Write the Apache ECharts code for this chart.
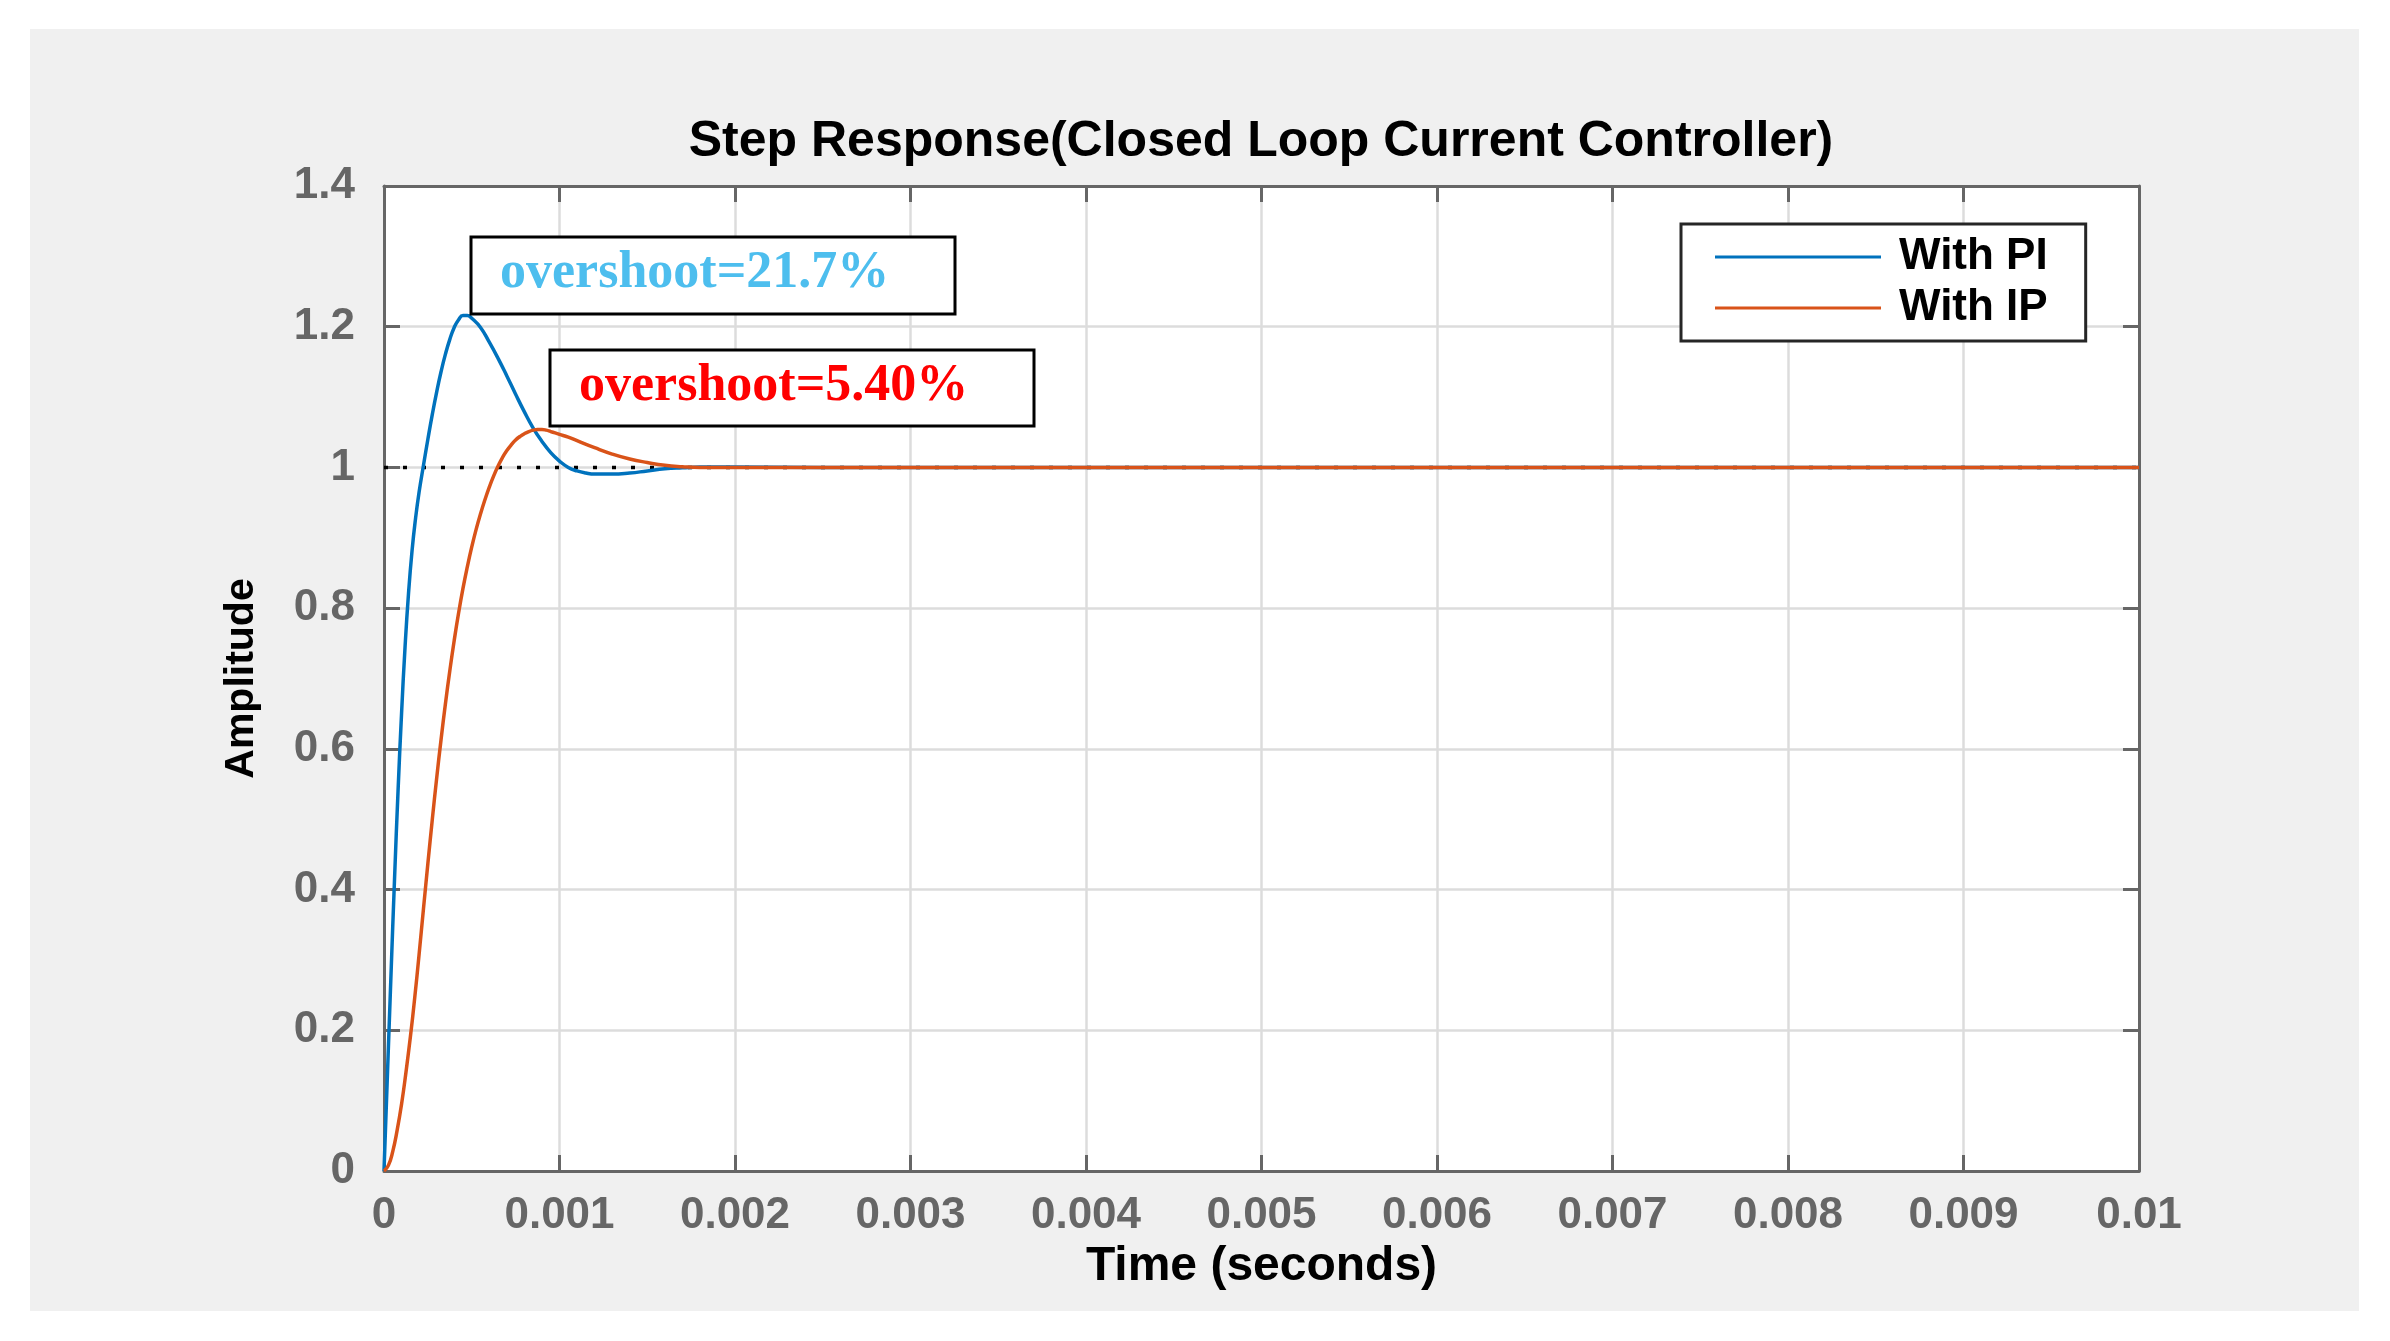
<!DOCTYPE html>
<html>
<head>
<meta charset="utf-8">
<title>Step Response</title>
<script src="https://cdn.jsdelivr.net/npm/echarts@6.0.0/dist/echarts.min.js"></script>
<style>
  html, body { margin: 0; padding: 0; background: #fff; }
  #frame { position: absolute; left: 30px; top: 29px; width: 2329px; height: 1282px; background: #f0f0f0; }
  #chart { position: absolute; left: 0; top: 0; width: 2390px; height: 1341px; }
</style>
</head>
<body>
<div id="frame"></div>
<div id="chart"></div>
<script>
// time in milliseconds
var piTimes = [0, 0.02, 0.04, 0.06, 0.08, 0.10, 0.12, 0.14, 0.16, 0.18, 0.20, 0.225, 0.25, 0.275, 0.30,
  0.325, 0.35, 0.375, 0.40, 0.425, 0.45, 0.475, 0.50, 0.55, 0.60, 0.65, 0.70, 0.75, 0.80, 0.85, 0.90,
  0.95, 1.00, 1.05, 1.10, 1.15, 1.20, 1.30, 1.40, 1.50, 1.60, 1.70, 1.80, 2.00, 2.50, 10];
var piValues = [0, 0.14, 0.28, 0.415, 0.54, 0.65, 0.745, 0.822, 0.882, 0.928, 0.965, 1.003, 1.04, 1.075, 1.107,
  1.136, 1.161, 1.182, 1.199, 1.21, 1.216, 1.216, 1.212, 1.199, 1.178, 1.155, 1.13, 1.104, 1.079, 1.056, 1.037,
  1.021, 1.009, 1.0, 0.995, 0.992, 0.9905, 0.9905, 0.992, 0.995, 0.998, 0.9995, 1.0005, 1.0005, 1.0, 1.0];

var ipTimes = [0, 0.025, 0.05, 0.075, 0.10, 0.125, 0.15, 0.175, 0.20, 0.225, 0.25, 0.275, 0.30, 0.325,
  0.35, 0.375, 0.40, 0.425, 0.45, 0.475, 0.50, 0.525, 0.55, 0.575, 0.60, 0.625, 0.65, 0.675, 0.70, 0.725,
  0.75, 0.775, 0.80, 0.825, 0.85, 0.875, 0.90, 0.925, 0.95, 0.975, 1.00, 1.05, 1.10, 1.20, 1.30, 1.40,
  1.50, 1.60, 1.70, 1.80, 10];
var ipValues = [0, 0.008, 0.028, 0.058, 0.095, 0.14, 0.19, 0.246, 0.308, 0.373, 0.437, 0.499, 0.558, 0.613,
  0.664, 0.711, 0.754, 0.793, 0.828, 0.859, 0.887, 0.912, 0.934, 0.954, 0.972, 0.988, 1.002, 1.014, 1.024, 1.032,
  1.039, 1.044, 1.048, 1.051, 1.053, 1.054, 1.054, 1.053, 1.051, 1.049, 1.047, 1.043, 1.038, 1.028, 1.019, 1.012,
  1.007, 1.003, 1.001, 1.0, 1.0];

var steadyTimes = [0, 10];
var steadyValue = 1;

var seriesNames = ['With PI', 'With IP'];
var notes = ['overshoot=21.7%', 'overshoot=5.40%'];

function pairs(times, values) {
  return times.map(function (t, i) { return [t / 1000, values[i]]; });
}

var sans = '"Liberation Sans", Arial, sans-serif';
var serif = '"Liberation Serif", "Times New Roman", serif';
var axisGray = '#666';

var tickStyle = { inside: true, length: 16, lineStyle: { color: axisGray, width: 3 } };
var lineStyle = { onZero: false, lineStyle: { color: axisGray, width: 3 } };
var gridLine = { show: true, lineStyle: { color: '#dcdcdc', width: 2.5 } };

var chart = echarts.init(document.getElementById('chart'), null, { renderer: 'canvas' });
chart.setOption({
  backgroundColor: 'transparent',
  animation: false,
  title: {
    text: 'Step Response(Closed Loop Current Controller)',
    left: 1256, top: 112, textAlign: 'center',
    textStyle: { fontFamily: sans, fontWeight: 'bold', fontSize: 50, color: '#000' }
  },
  grid: { left: 384, top: 186, width: 1755, height: 985, show: true, backgroundColor: '#fff', borderWidth: 0 },
  legend: {
    data: seriesNames,
    orient: 'vertical',
    left: 1681, top: 224,
    padding: [11, 38, 11, 34],
    itemGap: 7,
    itemWidth: 166, itemHeight: 3,
    icon: 'rect',
    backgroundColor: '#fff',
    borderColor: '#262626', borderWidth: 3, borderRadius: 0,
    textStyle: { fontFamily: sans, fontWeight: 'bold', fontSize: 44, color: '#000', lineHeight: 44, padding: [0, 0, 0, 13] }
  },
  xAxis: [{
    type: 'value', min: 0, max: 0.01, interval: 0.001, position: 'bottom',
    name: 'Time (seconds)', nameLocation: 'middle', nameGap: 64,
    nameTextStyle: { fontFamily: sans, fontWeight: 'bold', fontSize: 48, color: '#000' },
    axisLine: lineStyle, axisTick: tickStyle,
    axisLabel: {
      margin: 23, fontFamily: sans, fontWeight: 'bold', fontSize: 44, color: axisGray,
      formatter: function (v) { return String(+v.toFixed(3)); }
    },
    splitLine: gridLine
  }, {
    type: 'value', min: 0, max: 0.01, interval: 0.001, position: 'top',
    axisLine: lineStyle, axisTick: tickStyle, axisLabel: { show: false }, splitLine: { show: false }
  }],
  yAxis: [{
    type: 'value', min: 0, max: 1.4, interval: 0.2, position: 'left',
    name: 'Amplitude', nameLocation: 'middle', nameRotate: 90, nameGap: 122,
    nameTextStyle: { fontFamily: sans, fontWeight: 'bold', fontSize: 41, color: '#000' },
    axisLine: lineStyle, axisTick: tickStyle,
    axisLabel: { margin: 29, fontFamily: sans, fontWeight: 'bold', fontSize: 44, color: axisGray },
    splitLine: gridLine
  }, {
    type: 'value', min: 0, max: 1.4, interval: 0.2, position: 'right',
    axisLine: lineStyle, axisTick: tickStyle, axisLabel: { show: false }, splitLine: { show: false }
  }],
  series: [{
    name: 'steady', type: 'line', silent: true, symbol: 'none', z: 1,
    data: steadyTimes.map(function (t) { return [t / 1000, steadyValue]; }),
    lineStyle: { color: '#000', width: 3.5, type: [4, 15], cap: 'butt' }
  }, {
    name: seriesNames[0], type: 'line', symbol: 'none', smooth: 0.5, z: 3,
    data: pairs(piTimes, piValues),
    itemStyle: { color: '#0072BD' },
    lineStyle: { color: '#0072BD', width: 3.5 }
  }, {
    name: seriesNames[1], type: 'line', symbol: 'none', smooth: 0.5, z: 4,
    data: pairs(ipTimes, ipValues),
    itemStyle: { color: '#D95319' },
    lineStyle: { color: '#D95319', width: 3.5 }
  }],
  graphic: [
    { type: 'rect', z: 100, shape: { x: 471, y: 237, width: 484, height: 77 },
      style: { fill: '#fff', stroke: '#000', lineWidth: 3 } },
    { type: 'text', z: 101, x: 500, y: 274,
      style: { text: notes[0], fill: '#4DBEEE', font: 'bold 52px ' + serif, verticalAlign: 'middle' } },
    { type: 'rect', z: 100, shape: { x: 550, y: 350, width: 484, height: 76 },
      style: { fill: '#fff', stroke: '#000', lineWidth: 3 } },
    { type: 'text', z: 101, x: 579, y: 387,
      style: { text: notes[1], fill: '#FF0000', font: 'bold 52px ' + serif, verticalAlign: 'middle' } }
  ]
});
</script>
</body>
</html>
